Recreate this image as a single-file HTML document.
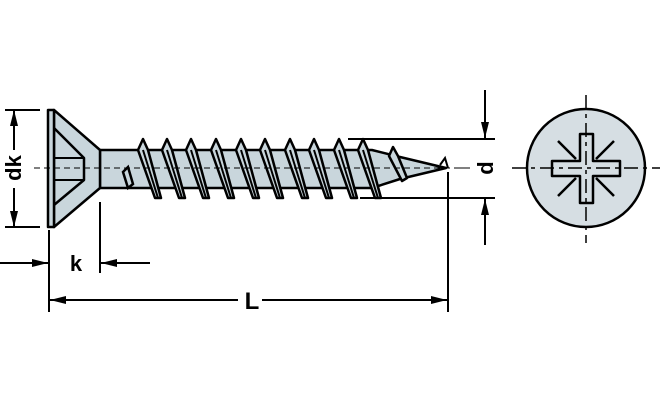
<!DOCTYPE html>
<html><head><meta charset="utf-8"><style>
html,body{margin:0;padding:0;background:#fff}
svg{display:block}
text{font-family:"Liberation Sans",Arial,sans-serif;font-weight:bold;fill:#000}
</style></head><body>
<svg width="660" height="400" viewBox="0 0 660 400" xmlns="http://www.w3.org/2000/svg">
<defs>
<marker id="a" viewBox="0 0 16 8" refX="16" refY="4" markerWidth="16" markerHeight="8" markerUnits="userSpaceOnUse" orient="auto"><path d="M0,0 L16,4 L0,8 Z" fill="#000"/></marker>
<g id="th">
<path d="M-5,150 L0,139 L5,150 L18,198 L12,198 Z" fill="#c9d6dc" stroke="#000" stroke-width="2.5" stroke-linejoin="round"/>
<path d="M0,150 L15,198" stroke="#000" stroke-width="2"/>
</g>
</defs>
<g stroke="#000" stroke-width="2.5" fill="#c9d6dc" stroke-linejoin="round">
<path d="M100,150 L372,150 L400,157 L446,168 L400,179 L372,188 L100,188 Z"/>
<path d="M54,110 L100,150 L100,188 L54,227 Z"/>
<rect x="48" y="110" width="6" height="117"/>
<path d="M54,128 L84,158 L84,180 L54,205" fill="none"/>
<path d="M54,158 L84,158 M54,180 L84,180" fill="none" stroke-width="2"/>
</g>
<path d="M123,172 L128,167 L133,184 L128,188 Z" fill="#c9d6dc" stroke="#000" stroke-width="2.5"/>
<use href="#th" x="143"/><use href="#th" x="167"/><use href="#th" x="191"/><use href="#th" x="216"/><use href="#th" x="241"/><use href="#th" x="265"/><use href="#th" x="290"/><use href="#th" x="314"/><use href="#th" x="339"/><use href="#th" x="363"/>
<path d="M389,156 L393,147 L398,156 L407,178 L402,181 Z" fill="#c9d6dc" stroke="#000" stroke-width="2.5" stroke-linejoin="round"/>
<path d="M440,165 L445,158 L448,168" fill="none" stroke="#000" stroke-width="2"/>
<path d="M34,168 L460,168" stroke="#000" stroke-width="1" stroke-dasharray="6,4"/>
<g stroke="#000" stroke-width="2" fill="none">
<path d="M5,110 L40,110 M5,227 L40,227"/>
<path d="M14,150 L14,110" marker-end="url(#a)"/>
<path d="M14,188 L14,227" marker-end="url(#a)"/>
<path d="M0,263 L48,263" marker-end="url(#a)"/>
<path d="M150,263 L101,263" marker-end="url(#a)"/>
<path d="M49,230 L49,312 M100,202 L100,273 M448,172 L448,312"/>
<path d="M238,300 L50,300" marker-end="url(#a)"/>
<path d="M262,300 L447,300" marker-end="url(#a)"/>
<path d="M348,139 L495,139 M360,198 L495,198"/>
<path d="M485,90 L485,138" marker-end="url(#a)"/>
<path d="M485,245 L485,199" marker-end="url(#a)"/>
<path d="M460,168 L470,168" stroke-width="1"/>
</g>
<text x="0" y="0" font-size="22" text-anchor="middle" transform="translate(21,168) rotate(-90)">dk</text>
<text x="76" y="271" font-size="22" text-anchor="middle">k</text>
<text x="252" y="309" font-size="24" text-anchor="middle">L</text>
<text x="0" y="0" font-size="22" text-anchor="middle" transform="translate(493,168) rotate(-90)">d</text>
<circle cx="586" cy="168" r="59" fill="#d6dee3" stroke="#000" stroke-width="2.5"/>
<path d="M580,134 L593,134 L593,161 L620,161 L620,176 L593,176 L593,203 L580,203 L580,176 L552,176 L552,161 L580,161 Z" fill="#d6dee3" stroke="#000" stroke-width="2.5" stroke-linejoin="round"/>
<g stroke="#000" stroke-width="2.5">
<path d="M558,141 L576,159 M614,141 L596,159 M558,196 L576,178 M614,196 L596,178"/>
</g>
<path d="M512,168 L660,168 M586,95 L586,243" stroke="#000" stroke-width="1.5" stroke-dasharray="14,5,4,5"/>
</svg>
</body></html>
